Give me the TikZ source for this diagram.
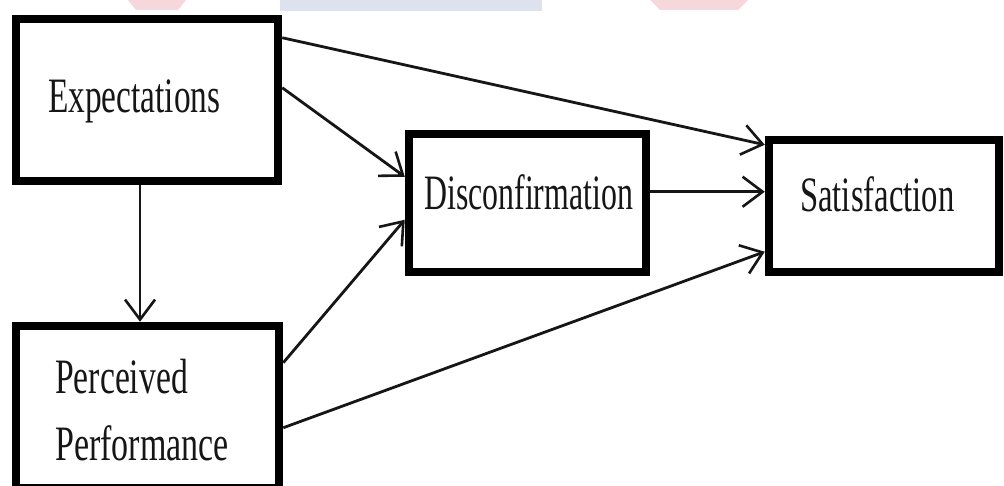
\documentclass[tikz,border=0pt]{standalone}
\usepackage{fontspec}
\setmainfont{Liberation Serif}
\usetikzlibrary{arrows.meta}
\definecolor{ink}{RGB}{22,22,22}
\definecolor{wmblue}{RGB}{222,226,238}
\definecolor{wmred}{RGB}{246,216,220}
\begin{document}
\begin{tikzpicture}[x=1pt,y=-1pt,
  box/.style={draw=black, line width=8.5pt, fill=white, inner sep=0pt},
  label/.style={anchor=base west, inner sep=0pt, text=ink,
    font=\fontsize{33}{40}\selectfont},
  link/.style={draw=ink, line width=2.8pt,
    -{Straight Barb[length=20pt, width=30pt, line width=2.6pt]}},
]
\useasboundingbox (0,0) rectangle (1004,486);
\fill[white] (0,0) rectangle (1004,486);

% faint logo fragments along the top edge
\fill[wmblue] (280,0) rectangle (542,11);
\fill[wmred] (128,0) -- (186,0) -- (178,10) -- (136,10) -- cycle;
\fill[wmred] (650,0) -- (748,0) -- (738,10) -- (660,10) -- cycle;

% boxes
\node[box, minimum width=262pt, minimum height=162pt] (exp) at (147,100) {};
\node[box, minimum width=263pt, minimum height=162pt] (per) at (147.5,407) {};
\node[box, minimum width=237pt, minimum height=138pt] (dis) at (527.5,203) {};
\node[box, minimum width=230pt, minimum height=132pt] (sat) at (884,206) {};

% texts
\node[label] (expT) at (48,113) {\scalebox{1.01}[1.5]{Expectations}};
\node[label] (perT1) at (55,393) {\scalebox{1.02}[1.5]{Perceived}};
\node[label] (perT2) at (55,460) {\scalebox{1.03}[1.5]{Performance}};
\node[label] (disT) at (424,210) {\scalebox{0.965}[1.5]{Disconfirmation}};
\node[label] (satT) at (800,212) {\scalebox{0.99}[1.5]{Satisfaction}};

% connectors
\draw[link] ([yshift=-23pt]exp.north east) -- ([yshift=-9pt]sat.north west);
\draw[link] ([yshift=-73pt]exp.north east) -- ([yshift=-47pt]dis.north west);
\draw[link] ([xshift=-7pt]exp.south) -- ([xshift=-7.5pt]per.north);
\draw[link] ([yshift=-41pt]per.north east) -- ([yshift=-90pt]dis.north west);
\draw[link] ([yshift=-106pt]per.north east) -- ([yshift=-116pt]sat.north west);
\draw[link] ([yshift=-62pt]dis.north east) -- ([yshift=-56pt]sat.north west);
\end{tikzpicture}
\end{document}
